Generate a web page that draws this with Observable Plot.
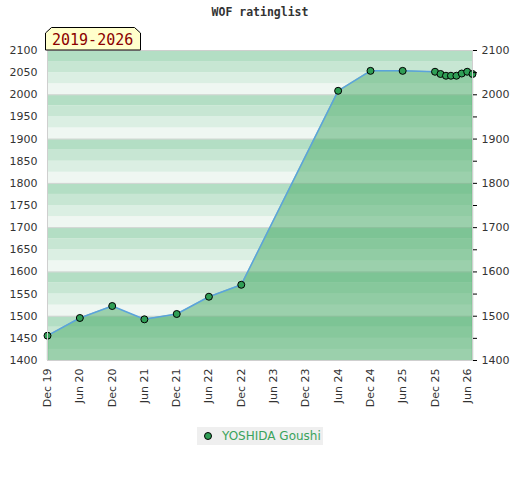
<!DOCTYPE html>
<html><head><meta charset="utf-8">
<script src="https://cdn.jsdelivr.net/npm/d3@7"></script>
<script src="https://cdn.jsdelivr.net/npm/@observablehq/plot@0.6"></script>
<style>
body{margin:0;background:#fff;}
#wrap{position:relative;width:520px;height:480px;font-family:"DejaVu Sans",sans-serif;}
#title{position:absolute;top:5px;left:0;width:520px;text-align:center;font:bold 11.5px "DejaVu Sans Mono",monospace;color:#333;}
#chart{position:absolute;top:0;left:0;}
#badge{position:absolute;top:0;left:0;}
#legend{position:absolute;left:197px;top:427px;width:126px;height:18px;background:#efefef;}
#legend svg{position:absolute;left:0;top:0;}
#legend span{position:absolute;left:25px;top:2px;font:12px "DejaVu Sans",sans-serif;color:#3aa35c;white-space:nowrap;}
</style></head><body>
<div id="wrap">
  <div id="chart"></div>
  <div id="title"></div>
  <svg id="badge" width="160" height="60"></svg>
  <div id="legend"><svg width="20" height="18"><circle cx="11" cy="9" r="3.5" fill="#2f9e55" stroke="#000" stroke-width="1"/></svg><span id="legtext"></span></div>
</div>
<script>
const title = "WOF ratinglist";
const periodLabel = "2019-2026";
const playerName = "YOSHIDA Goushi";
const dates = ["2019-12","2020-06","2020-12","2021-06","2021-12","2022-06","2022-12","2024-06","2024-12","2025-06","2025-12","2026-01","2026-02","2026-03","2026-04","2026-05","2026-06","2026-07"];
const ratings = [1456,1496,1523,1493,1505,1544,1571,2009,2054,2054,2052,2047,2043,2043,2043,2048,2052,2047];
const yTicksLeft = [1400,1450,1500,1550,1600,1650,1700,1750,1800,1850,1900,1950,2000,2050,2100];
const yTicksRight = [1400,1500,1600,1700,1800,1900,2000,2100];
const yMinorRight = [1450,1550,1650,1750,1850,1950,2050];
const xTicks = ["2019-12","2020-06","2020-12","2021-06","2021-12","2022-06","2022-12","2023-06","2023-12","2024-06","2024-12","2025-06","2025-12","2026-06"];
const xDomain = ["2019-12","2026-07"];
const yDomain = [1400,2100];

const toDate = s => new Date(s + "-01T00:00:00Z");
const data = dates.map((d,i) => ({date: toDate(d), rating: ratings[i]}));
const x0 = toDate(xDomain[0]), x1 = toDate(xDomain[1]);
const stripeColors = ["#eff7f2","#dbefe3","#c7e6d3","#b3dec4"];
const stripes = d3.range(yDomain[0], yDomain[1], 25).map(v => ({lo: v, hi: v + 25, fill: stripeColors[(v % 100) / 25]}));
const grid = yTicksRight.slice(1, -1);
const fmt = d3.format("d");

document.getElementById("title").textContent = title;
document.getElementById("legtext").textContent = playerName;

const badge = d3.select("#badge");
badge.append("polygon").attr("points","45.5,50 45.5,33 51.5,27.5 134.5,27.5 140.5,33 140.5,50").attr("fill","#ffffcc").attr("stroke","#000").attr("stroke-width",1);
badge.append("text").attr("x",52).attr("y",45).attr("font-family","DejaVu Sans Mono, monospace").attr("font-size",15).attr("fill","#8b0000").text(periodLabel);

const chart = Plot.plot({
  width: 520, height: 420,
  marginTop: 50, marginBottom: 60, marginLeft: 47, marginRight: 48,
  x: {type: "utc", domain: [x0, x1]},
  y: {domain: yDomain},
  color: {type: "identity"},
  style: {fontFamily: "DejaVu Sans, sans-serif", fontSize: "11px", color: "#333", background: "transparent"},
  marks: [
    Plot.rect(stripes, {x1: () => x0, x2: () => x1, y1: "lo", y2: "hi", fill: "fill"}),
    Plot.ruleY(grid, {stroke: "#d6d6d6"}),
    Plot.areaY(data, {x: "date", y1: yDomain[0], y2: "rating", fill: "rgb(71,170,102)", fillOpacity: 0.5}),
    Plot.ruleX([data[0], data[data.length - 1]], {x: "date", y1: yDomain[0], y2: "rating", stroke: "#2ea44f", strokeWidth: 1.2}),
    Plot.line(data, {x: "date", y: "rating", stroke: "#5ba3dc", strokeWidth: 1.5}),
    Plot.dot(data, {x: "date", y: "rating", r: 3.5, fill: "#2f9e55", stroke: "#000", strokeWidth: 1}),
    Plot.frame({stroke: "#cfcfcf"}),
    Plot.axisY({anchor: "left", ticks: yTicksLeft, tickFormat: fmt, tickSize: 0, tickPadding: 10, label: null}),
    Plot.axisY({anchor: "right", ticks: yTicksRight, tickFormat: fmt, tickSize: 4, tickPadding: 5, label: null, stroke: "#000"}),
    Plot.axisY({anchor: "right", ticks: yMinorRight, tickSize: 4, tickFormat: () => "", label: null, stroke: "#000"}),
    Plot.axisX({ticks: xTicks.map(toDate), tickFormat: d3.utcFormat("%b %y"), tickRotate: -90, tickSize: 0, tickPadding: 8, label: null})
  ]
});
document.getElementById("chart").appendChild(chart);
</script>
</body></html>
